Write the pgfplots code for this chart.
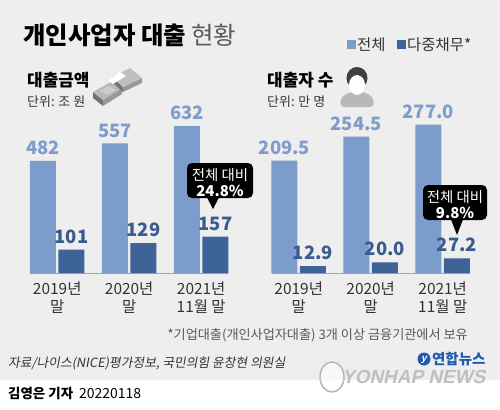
\documentclass[border=0pt]{standalone}
\usepackage{pgfplots}
\pgfplotsset{compat=1.18}
\usepackage{fontspec}
\setmainfont{Noto Sans CJK KR}
\newfontfamily\krsl[FakeSlant=0.18]{Noto Sans CJK KR}
\newfontfamily\yh[FakeSlant=0.22]{Liberation Sans}
\definecolor{bg}{HTML}{EEEEEE}
\definecolor{lightc}{HTML}{7C9CCB}
\definecolor{darkc}{HTML}{3E6397}
\definecolor{lighttxt}{HTML}{7F9DCA}
\definecolor{darktxt}{HTML}{3A5B8D}
\definecolor{txt}{HTML}{333333}
\definecolor{logoblue}{HTML}{1F5BAA}
\newcommand\fs[1]{\fontsize{#1}{#1}\selectfont}
\pgfplotsset{
  barstyle/.style={
    scale only axis, height=150bp, ymin=0, clip=false,
    axis x line*=bottom, axis y line=none,
    x axis line style={draw=black!35, line width=0.8bp, -},
    ytick=\empty, xtick={0,1,2}, major tick length=0pt,
    xticklabel style={align=center, font=\fontsize{15.5}{18}\selectfont, text=txt, inner sep=0pt, yshift=-9bp},
    ybar, bar width=26bp,
    nodes near coords, point meta=explicit symbolic,
    every node near coord/.append style={font=\fs{18.5}\bfseries, anchor=south, inner sep=0pt, yshift=6bp},
  }
}
\begin{document}
\begin{tikzpicture}[x=1bp,y=1bp]
\path[use as bounding box] (0,0) rectangle (500,409);
\fill[bg] (0,29) rectangle (500,409);
\fill[white] (0,0) rectangle (500,29);

% title
\node[anchor=base west, inner sep=0pt] at (23,365) {\fs{24.5}\textbf{개인사업자 대출} \color{black!65}현황};
% legend
\fill[lightc] (347,360) rectangle (356,369);
\node[anchor=base west, inner sep=0pt] at (357,359) {\fs{15.5}\color{txt}전체};
\fill[darkc] (397,360) rectangle (406,369);
\node[anchor=base west, inner sep=0pt] at (407,359) {\fs{15.5}\color{txt}다중채무*};

% subtitles
\node[anchor=base west, inner sep=0pt] at (27,323) {\fs{17}\textbf{대출금액}};
\node[anchor=base west, inner sep=0pt] at (27,302.5) {\fs{13}\color{txt}단위: 조 원};
\node[anchor=base west, inner sep=0pt] at (267,323) {\fs{17}\textbf{대출자 수}};
\node[anchor=base west, inner sep=0pt] at (267,302.5) {\fs{13}\color{txt}단위: 만 명};

% money icon
\fill[black!55] (93,317) -- (103,309) -- (103,303) -- (93,311) -- cycle;
\fill[black!40] (103,309) -- (122,321) -- (122,315) -- (103,303) -- cycle;
\fill[black!28] (93,317) -- (111,327) -- (122,321) -- (103,309) -- cycle;
\fill[black!20] (100,318) -- (108,323) -- (116,319) -- (108,314) -- cycle;
\fill[black!55] (112,332) -- (123,322) -- (123,317) -- (112,327) -- cycle;
\fill[black!40] (123,322) -- (142,331) -- (142,326) -- (123,317) -- cycle;
\fill[black!25] (112,332) -- (130,341) -- (142,331) -- (123,322) -- cycle;
\fill[white] (108,328.5) -- (113,325) -- (126,333) -- (120,337) -- cycle;

% person icon
\fill[black!28, rounded corners=4bp] (340,302) -- (341,312) -- (350,317) -- (364,317) -- (373,312) -- (374,302) -- cycle;
\fill[black!75] (357,331) ellipse (10.5bp and 11bp);
\fill[white] (357,324) ellipse (8bp and 10bp);
\fill[black!75] (348,331) .. controls (352,337) and (362,337) .. (366,331) -- (366,336) .. controls (362,343) and (352,343) .. (348,336) -- cycle;

% left chart
\begin{axis}[barstyle, at={(30bp,136bp)}, anchor=south west,
  width=198.2bp, xmin=-0.378, xmax=2.375, ymax=645.16,
  xticklabels={{2019년\\말},{2020년\\말},{2021년\\11월 말}}]
\addplot[fill=lightc, draw=none, bar shift=-14.25bp,
  every node near coord/.append style={text=lighttxt}]
  coordinates {(0,482) [482] (1,557) [557] (2,632) [632]};
\addplot[fill=darkc, draw=none, bar shift=14.25bp,
  every node near coord/.append style={text=darktxt}]
  coordinates {(0,101) [101] (1,129) [129] (2,157) [157]};
\end{axis}

% right chart
\begin{axis}[barstyle, at={(272bp,136bp)}, anchor=south west,
  width=197.9bp, xmin=-0.371, xmax=2.378, ymax=279.85,
  xticklabels={{2019년\\말},{2020년\\말},{2021년\\11월 말}}]
\addplot[fill=lightc, draw=none, bar shift=-14.25bp,
  every node near coord/.append style={text=lighttxt}]
  coordinates {(0,209.5) [209.5] (1,254.5) [254.5] (2,277.0) [277.0]};
\addplot[fill=darkc, draw=none, bar shift=14.25bp,
  every node near coord/.append style={text=darktxt}]
  coordinates {(0,12.9) [12.9] (1,20.0) [20.0] (2,27.2) [27.2]};
\end{axis}

% callouts
\fill[black, rounded corners=5bp] (187,211) rectangle (253,246);
\fill[black] (207,211.5) -- (219,211.5) -- (213,200) -- cycle;
\node[white, inner sep=0pt] at (220,234) {\fs{14.5}전체 대비};
\node[white, inner sep=0pt] at (220,218) {\fs{15}\textbf{24.8\%}};
\fill[black, rounded corners=5bp] (423,189) rectangle (487,224);
\fill[black] (451,189.5) -- (463,189.5) -- (457,174) -- cycle;
\node[white, inner sep=0pt] at (455,212) {\fs{14.5}전체 대비};
\node[white, inner sep=0pt] at (455,196) {\fs{15}\textbf{9.8\%}};

% footnote and source
\node[anchor=base east, inner sep=0pt] at (468,70) {\fs{13.2}\color{black!65}*기업대출(개인사업자대출) 3개 이상 금융기관에서 보유};
\node[anchor=base west, inner sep=0pt] at (8,41.5) {\fs{12.8}\krsl\color{txt}자료/나이스(NICE)평가정보, 국민의힘 윤창현 의원실};

% logo
\fill[logoblue] (424,50) circle (6.5bp);
\node[white, inner sep=0pt] at (424,49) {\fs{10}\yh\textbf{y}};
\node[anchor=west, inner sep=0pt] at (432,50) {\fs{14.5}\color{logoblue}\textbf{연합뉴스}};
\draw[black!28, line width=1.5bp, fill=white, fill opacity=0.6] (332,32) ellipse (12bp and 15bp);
\node[anchor=base west, inner sep=0pt] at (342,26) {\fs{19}\yh\color{black!25}\textbf{YONHAP NEWS}};

% byline
\node[anchor=base west, inner sep=0pt] at (8,11) {\fs{13.5}\textbf{김영은 기자}\hspace{6bp}\mdseries\fs{14}20220118};
\end{tikzpicture}
\end{document}
